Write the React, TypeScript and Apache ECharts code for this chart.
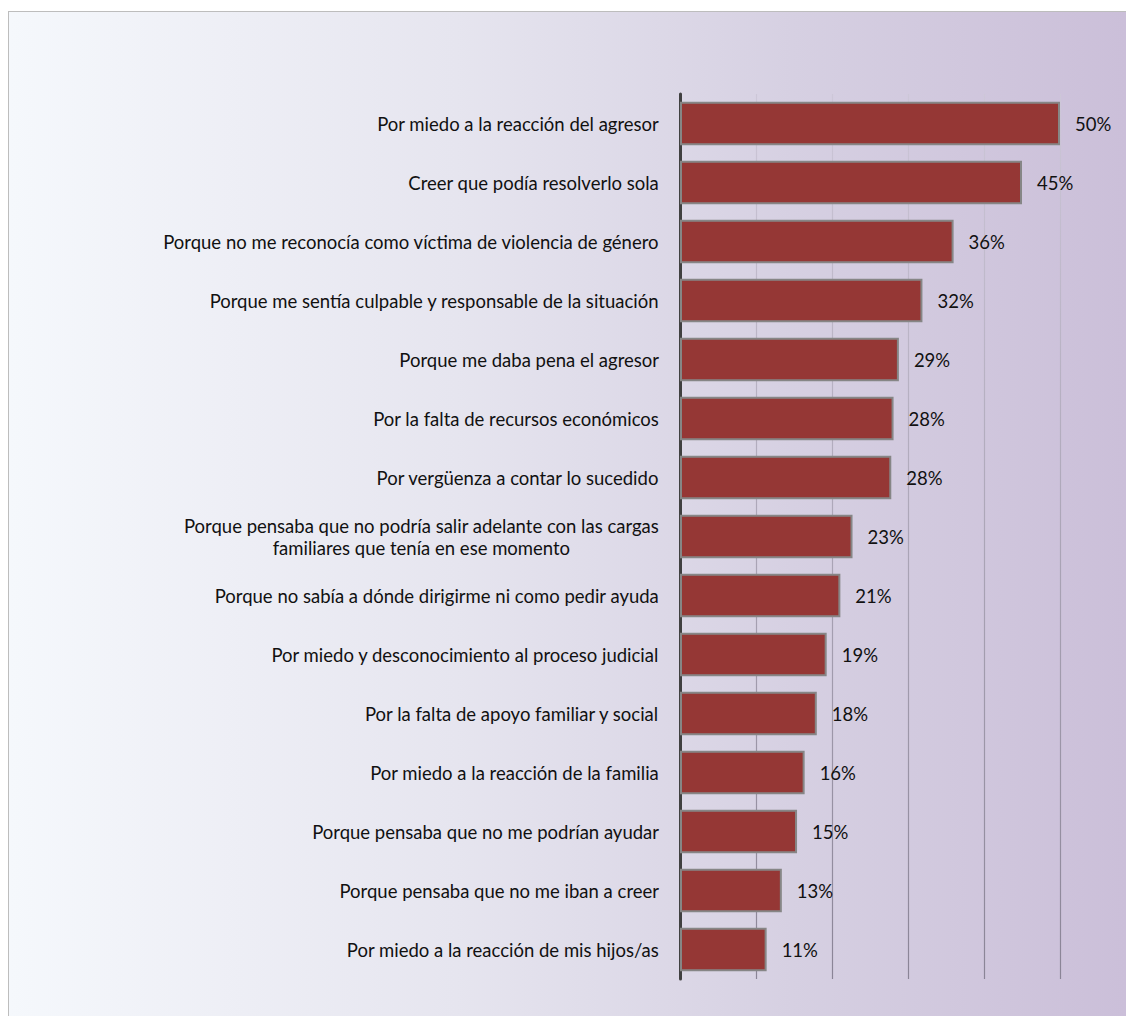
import React, { useEffect, useRef } from "react";
import * as echarts from "echarts";

const categories: string[] = [
  "Por miedo a la reacción del agresor",
  "Creer que podía resolverlo sola",
  "Porque no me reconocía como víctima de violencia de género",
  "Porque me sentía culpable y responsable de la situación",
  "Porque me daba pena el agresor",
  "Por la falta de recursos económicos",
  "Por vergüenza a contar lo sucedido",
  "Porque pensaba que no podría salir adelante con las cargas\nfamiliares que tenía en ese momento",
  "Porque no sabía a dónde dirigirme ni como pedir ayuda",
  "Por miedo y desconocimiento al proceso judicial",
  "Por la falta de apoyo familiar y social",
  "Por miedo a la reacción de la familia",
  "Porque pensaba que no me podrían ayudar",
  "Porque pensaba que no me iban a creer",
  "Por miedo a la reacción de mis hijos/as",
];

const values: number[] = [50.0, 45.0, 36.0, 31.9, 28.8, 28.1, 27.8, 22.7, 21.1, 19.3, 18.0, 16.4, 15.4, 13.4, 11.4];

const valueLabels: string[] = ["50%", "45%", "36%", "32%", "29%", "28%", "28%", "23%", "21%", "19%", "18%", "16%", "15%", "13%", "11%"];

const axisMin = 0;
const axisMax = 50;
const axisInterval = 10;

const FONT = "Lato, 'Open Sans', sans-serif";
const FS = 18.5;

export default function App() {
  const ref = useRef<HTMLDivElement>(null);

  useEffect(() => {
    if (!ref.current) return;
    const chart = echarts.init(ref.current, undefined, { renderer: "svg" });
    chart.setOption({
      animation: false,
      backgroundColor: "transparent",
      grid: { left: 671, right: 66, top: 82, bottom: 37, containLabel: false },
      xAxis: {
        type: "value",
        min: axisMin,
        max: axisMax,
        interval: axisInterval,
        axisLine: { show: false },
        axisTick: { show: false },
        axisLabel: { show: false },
        splitLine: {
          show: true,
          lineStyle: {
            width: 1.2,
            color: new echarts.graphic.LinearGradient(0, 82, 0, 967, [
              { offset: 0, color: "#cdc7d8" },
              { offset: 1, color: "#8a8496" },
            ], true),
          },
        },
      },
      yAxis: {
        type: "category",
        data: categories,
        inverse: true,
        axisLine: { show: true, lineStyle: { color: "#404040", width: 3 } },
        axisTick: { show: false },
        axisLabel: {
          margin: 21,
          color: "#111",
          fontFamily: FONT,
          fontSize: FS,
          formatter: (v: string) => v.split("\n").map((l) => `{c|${l}}`).join("\n"),
          rich: {
            c: { align: "center", fontFamily: FONT, fontSize: FS, color: "#111", lineHeight: 22 },
          },
        },
      },
      series: [
        {
          type: "bar",
          data: values,
          barWidth: "74%",
          itemStyle: { color: "#953735", borderColor: "#868686", borderWidth: 2 },
          label: {
            show: true,
            position: "right",
            distance: 15,
            color: "#111",
            fontFamily: FONT,
            fontSize: FS,
            formatter: (p: any) => valueLabels[p.dataIndex],
          },
        },
      ],
    });
    return () => chart.dispose();
  }, []);

  return (
    <div
      style={{
        position: "fixed",
        left: 8,
        top: 11,
        width: 1118,
        height: 1005,
        boxSizing: "border-box",
        borderLeft: "1px solid #bdbdbd",
        borderTop: "1px solid #bdbdbd",
        background: "linear-gradient(to right, #f5f8fc 0%, #e6e5ef 40%, #d6d0e2 70%, #cbbfd9 100%)",
      }}
    >
      <div ref={ref} style={{ position: "absolute", left: 0, top: 0, width: 1117, height: 1004 }} />
    </div>
  );
}
